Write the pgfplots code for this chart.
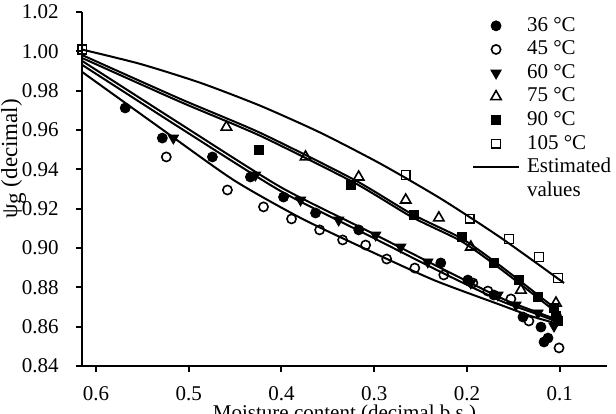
\documentclass[border=0pt]{standalone}
\usepackage{pgfplots}
\pgfplotsset{compat=1.18}
\usepackage{fontspec}
\setmainfont{Liberation Serif}
\pgfplotsset{
  markleg/.style={legend image code/.code={\draw[##1] plot coordinates {(11.5pt,0pt)};}},
  lineleg/.style={legend image code/.code={\draw[##1] (0pt,0pt) -- (23pt,0pt);}},
}
\begin{document}
\fontsize{10.5}{12.5}\selectfont
\begin{tikzpicture}
\begin{axis}[
  at={(0,0)}, anchor=south west,
  scale only axis, width=262.5pt, height=177pt,
  x dir=reverse,
  xmin=0.049, xmax=0.615, ymin=0.84, ymax=1.02,
  axis lines=left, axis line style={-, line width=1pt},
  tick align=outside, major tick length=3pt,
  tick style={line width=1pt, black},
  xtick={0.1,0.2,0.3,0.4,0.5,0.6},
  ytick={0.84,0.86,0.88,0.90,0.92,0.94,0.96,0.98,1.00,1.02},
  /pgf/number format/assume math mode=true,
  xticklabel style={/pgf/number format/fixed, /pgf/number format/precision=1, yshift=-3.5pt},
  yticklabel style={/pgf/number format/fixed, /pgf/number format/fixed zerofill, /pgf/number format/precision=2, xshift=-5pt},
  clip=false,
  legend cell align=left,
  legend style={at={(axis description cs:0.743,0.99)}, anchor=north west, draw=none, fill=none,
    inner sep=0pt, outer sep=0pt, row sep=1.5pt, column sep=3pt,
    nodes={inner sep=0.5pt, text height=7.3pt, text depth=2pt}},
]
% measured points
\addplot[only marks, mark=*, mark size=2.5pt, black, markleg] coordinates {
(0.5684,0.9712) (0.5284,0.9559) (0.4744,0.9463) (0.4334,0.9361) (0.3977,0.9259)
(0.3632,0.9178) (0.3167,0.9092) (0.2282,0.8924) (0.1990,0.8837) (0.1710,0.8761)
(0.1396,0.8649) (0.1202,0.8598) (0.1126,0.8542) (0.1169,0.8522)};
\addlegendentry{36 °C}
\addplot[only marks, mark=o, mark size=2.3pt, mark options={line width=0.8pt}, black, markleg] coordinates {
(0.5241,0.9463) (0.4582,0.9295) (0.4193,0.9209) (0.3891,0.9148) (0.3588,0.9092)
(0.3340,0.9041) (0.3092,0.9015) (0.2865,0.8944) (0.2562,0.8898) (0.2250,0.8863)
(0.1936,0.8822) (0.1774,0.8781) (0.1526,0.8741) (0.1332,0.8629) (0.1007,0.8492)};
\addlegendentry{45 °C}
\addplot[only marks, mark=triangle*, mark size=3pt, mark options={rotate=180}, black, markleg] coordinates {
(0.5165,0.9559) (0.4280,0.9371) (0.3794,0.9244) (0.3383,0.9142) (0.2984,0.9066)
(0.2714,0.9005) (0.2422,0.8929) (0.1958,0.8822) (0.1666,0.8761) (0.1472,0.8710)
(0.1234,0.8670) (0.1061,0.8603)};
\addlegendentry{60 °C}
\addplot[only marks, mark=triangle, mark size=3pt, mark options={line width=0.8pt}, black, markleg] coordinates {
(0.4593,0.9615) (0.3740,0.9463) (0.3167,0.9361) (0.2660,0.9244) (0.2303,0.9153)
(0.1958,0.9005) (0.1418,0.8786) (0.1040,0.8720)};
\addlegendentry{75 °C}
\addplot[only marks, mark=square*, mark size=2.2pt, black, markleg] coordinates {
(0.4247,0.9498) (0.3254,0.9320) (0.2573,0.9168) (0.2055,0.9056) (0.1710,0.8924)
(0.1440,0.8837) (0.1234,0.8751) (0.1061,0.8695) (0.1040,0.8654) (0.1018,0.8629)};
\addlegendentry{90 °C}
\addplot[only marks, mark=square, mark size=2.2pt, mark options={line width=0.8pt}, black, markleg] coordinates {
(0.6148,1.0009) (0.2660,0.9371) (0.1969,0.9148) (0.1547,0.9046) (0.1223,0.8954) (0.1018,0.8847)};
\addlegendentry{105 °C}
% estimated values
\addplot[black, line width=1pt, smooth, tension=0.4, mark=none, lineleg] coordinates {
(0.6148,1.0009) (0.5522,0.9936) (0.4874,0.9840) (0.4226,0.9723) (0.3578,0.9586)
(0.2930,0.9428) (0.2282,0.9251) (0.1634,0.9052) (0.0953,0.8822)};
\addlegendentry{Estimated}
\addlegendimage{empty legend}
\addlegendentry{values}
\addplot[black, line width=1pt, smooth, tension=0.4, forget plot] coordinates {
(0.6148,0.9981) (0.5090,0.9758) (0.4226,0.9585) (0.3211,0.9346) (0.2595,0.9173)
(0.2066,0.9051) (0.1710,0.8934) (0.1440,0.8837) (0.1234,0.8761) (0.1029,0.8685) (0.0986,0.8654)};
\addplot[black, line width=1pt, smooth, tension=0.4, forget plot] coordinates {
(0.6148,0.9966) (0.5090,0.9743) (0.4226,0.9570) (0.3211,0.9331) (0.2595,0.9158)
(0.2066,0.9036) (0.1710,0.8919) (0.1440,0.8822) (0.1234,0.8746) (0.1029,0.8670) (0.0986,0.8644)};
\addplot[black, line width=1pt, smooth, tension=0.4, forget plot] coordinates {
(0.6148,0.9951) (0.5090,0.9631) (0.4010,0.9310) (0.3070,0.9087) (0.2282,0.8898)
(0.1634,0.8746) (0.1310,0.8685) (0.1018,0.8634)};
\addplot[black, line width=1pt, smooth, tension=0.4, forget plot] coordinates {
(0.6148,0.9931) (0.5090,0.9610) (0.4010,0.9290) (0.3070,0.9066) (0.2282,0.8878)
(0.1634,0.8731) (0.1310,0.8675) (0.1018,0.8624)};
\addplot[black, line width=1pt, smooth, tension=0.4, forget plot] coordinates {
(0.6148,0.9895) (0.5306,0.9610) (0.4517,0.9346) (0.3794,0.9153) (0.3070,0.8990)
(0.2357,0.8837) (0.1634,0.8710) (0.1310,0.8654) (0.1018,0.8614)};
\node[rotate=90, anchor=base, inner sep=0pt, font=\fontsize{11.5}{13.5}\selectfont]
  at (axis description cs:-0.1238,0.585) {ψ\raisebox{-2pt}{g} (decimal)};
\node[anchor=north, inner sep=0pt] at (axis description cs:0.5,0) [yshift=-19.5pt]
  {Moisture content (decimal b.s.)};
\end{axis}
\pgfresetboundingbox
\path[use as bounding box] (-41pt,-23.5pt) rectangle (267pt,183pt);
\end{tikzpicture}
\end{document}
